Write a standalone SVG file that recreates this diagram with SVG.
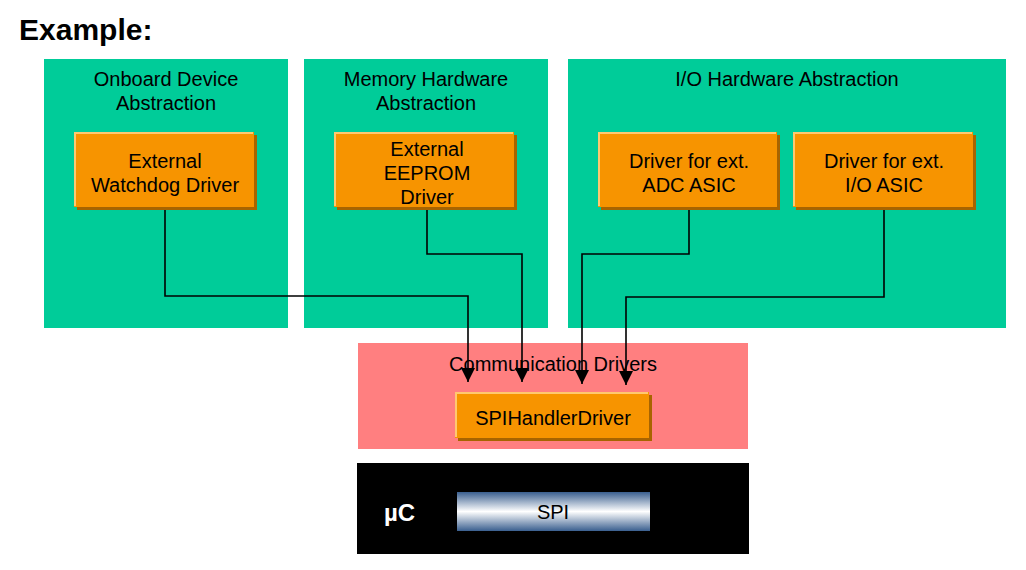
<svg xmlns="http://www.w3.org/2000/svg" width="1026" height="570" viewBox="0 0 1026 570">
<style>
text{font-family:"Liberation Sans",Arial,sans-serif;fill:#000}
.lbl{font-size:20px;text-anchor:middle}
.grp{fill:#00CC99}
.face{fill:#F79400}
.shadow{fill:#A86400}
.hl{fill:none;stroke:#FFC870;stroke-width:2}
.conn{fill:none;stroke:#000;stroke-width:1.6}
</style>
<defs>
<marker id="arr" viewBox="0 0 14 14" refX="14" refY="7" markerWidth="14" markerHeight="14" markerUnits="userSpaceOnUse" orient="auto">
<path d="M0,0 L14,7 L0,14 z" fill="#000"/>
</marker>
<linearGradient id="spi" x1="0" y1="0" x2="0" y2="1">
<stop offset="0" stop-color="#3A5F8F"/>
<stop offset="0.5" stop-color="#FFFFFF"/>
<stop offset="1" stop-color="#3A5F8F"/>
</linearGradient>
</defs>
<rect width="1026" height="570" fill="#fff"/>
<text x="19" y="40" style="font-size:30px;font-weight:bold">Example:</text>

<g id="onboard">
<rect class="grp" x="44" y="59" width="244" height="269"/>
<text class="lbl" x="166" y="86">Onboard Device</text>
<text class="lbl" x="166" y="110">Abstraction</text>
</g>
<g id="memory">
<rect class="grp" x="304" y="59" width="244" height="269"/>
<text class="lbl" x="426" y="86">Memory Hardware</text>
<text class="lbl" x="426" y="110">Abstraction</text>
</g>
<g id="io">
<rect class="grp" x="568" y="59" width="438" height="269"/>
<text class="lbl" x="787" y="86">I/O Hardware Abstraction</text>
</g>
<g id="comm">
<rect x="358" y="343" width="390" height="106" fill="#FF7F80"/>
<text class="lbl" x="553" y="371">Communication Drivers</text>
</g>
<g id="uc">
<rect x="357" y="463" width="392" height="91" fill="#000"/>
<text x="384" y="521" style="font-size:24px;font-weight:bold;fill:#fff">µC</text>
</g>
<g id="spi-hw">
<rect x="457" y="492" width="193" height="39" fill="url(#spi)"/>
<text class="lbl" x="553" y="519">SPI</text>
</g>

<g id="wdg">
<rect class="shadow" x="77" y="135" width="180" height="75"/>
<rect class="face" x="74" y="132" width="180" height="75"/>
<path class="hl" d="M75,206 V133 H253"/>
<text class="lbl" x="165" y="168">External</text>
<text class="lbl" x="165" y="192">Watchdog Driver</text>
</g>
<g id="eeprom">
<rect class="shadow" x="337" y="135" width="180" height="75"/>
<rect class="face" x="334" y="132" width="180" height="75"/>
<path class="hl" d="M335,206 V133 H513"/>
<text class="lbl" x="427" y="156">External</text>
<text class="lbl" x="427" y="180">EEPROM</text>
<text class="lbl" x="427" y="204">Driver</text>
</g>
<g id="adc">
<rect class="shadow" x="601" y="135" width="179" height="75"/>
<rect class="face" x="598" y="132" width="179" height="75"/>
<path class="hl" d="M599,206 V133 H776"/>
<text class="lbl" x="689" y="168">Driver for ext.</text>
<text class="lbl" x="689" y="192">ADC ASIC</text>
</g>
<g id="ioasic">
<rect class="shadow" x="796" y="135" width="180" height="75"/>
<rect class="face" x="793" y="132" width="180" height="75"/>
<path class="hl" d="M794,206 V133 H972"/>
<text class="lbl" x="884" y="168">Driver for ext.</text>
<text class="lbl" x="884" y="192">I/O ASIC</text>
</g>
<g id="spihandler">
<rect class="shadow" x="458" y="395" width="194" height="46"/>
<rect class="face" x="455" y="392" width="194" height="46"/>
<path class="hl" d="M456,437 V393 H648"/>
<text class="lbl" x="553" y="425">SPIHandlerDriver</text>
</g>

<g id="connectors">
<path class="conn" marker-end="url(#arr)" d="M165,210 V296 H468 V382"/>
<path class="conn" marker-end="url(#arr)" d="M427,210 V254 H522 V382"/>
<path class="conn" marker-end="url(#arr)" d="M689,210 V254 H582 V384"/>
<path class="conn" marker-end="url(#arr)" d="M884,210 V297 H626 V385"/>
</g>
</svg>
